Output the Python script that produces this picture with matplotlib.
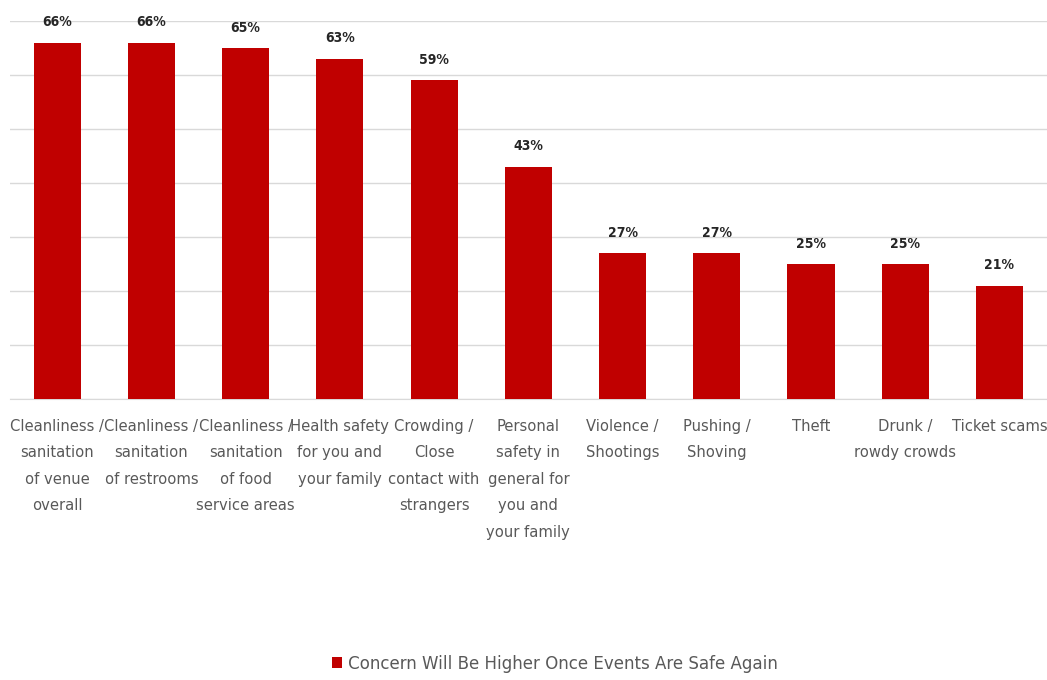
import matplotlib
matplotlib.use('Agg')
import matplotlib.pyplot as plt
from matplotlib.patches import Patch
import numpy as np

categories = [
    'Cleanliness /\nsanitation\nof venue\noverall',
    'Cleanliness /\nsanitation\nof restrooms',
    'Cleanliness /\nsanitation\nof food\nservice areas',
    'Health safety\nfor you and\nyour family',
    'Crowding /\nClose\ncontact with\nstrangers',
    'Personal\nsafety in\ngeneral for\nyou and\nyour family',
    'Violence /\nShootings',
    'Pushing /\nShoving',
    'Theft',
    'Drunk /\nrowdy crowds',
    'Ticket scams',
]
values = [66, 66, 65, 63, 59, 43, 27, 27, 25, 25, 21]
series_name = 'Concern Will Be Higher Once Events Are Safe Again'

plt.rcParams['font.family'] = ['DejaVu Sans']
plt.rcParams['font.stretch'] = 'condensed'

bar_color = '#C00000'
text_gray = '#595959'

fig = plt.figure(figsize=(10.47, 6.80), dpi=100)
ax = fig.add_axes([0.0096, 0.413, 0.99, 0.556])

x = np.arange(len(values))
bars = ax.bar(x, values, width=0.5, color=bar_color, zorder=3)

for xi, v in zip(x, values):
    ax.text(xi, v + 2.5, f'{v}%', ha='center', va='bottom', fontsize=10,
            fontweight='bold', color='#262626', clip_on=False)

ax.set_xlim(-0.5, len(values) - 0.5)
ax.set_ylim(0, 70)
ax.set_yticks(np.arange(0, 71, 10))
ax.yaxis.grid(True, color='#D9D9D9', linewidth=1, zorder=0)
ax.set_yticklabels([])
ax.tick_params(axis='y', length=0)
ax.tick_params(axis='x', length=0, pad=14)
ax.set_xticks(x)
ax.set_xticklabels(categories, fontsize=11.8, color=text_gray, linespacing=1.96)
for s in ['top', 'right', 'left']:
    ax.spines[s].set_visible(False)
ax.spines['bottom'].set_color('#D9D9D9')

handle = Patch(facecolor=bar_color, edgecolor='none')
fig.legend([handle], [series_name], loc='center', bbox_to_anchor=(0.53, 0.024),
           frameon=False, fontsize=13.3, handlelength=0.55, handleheight=0.55,
           handletextpad=0.35, labelcolor=text_gray)

fig.savefig('out.png', dpi=100)
